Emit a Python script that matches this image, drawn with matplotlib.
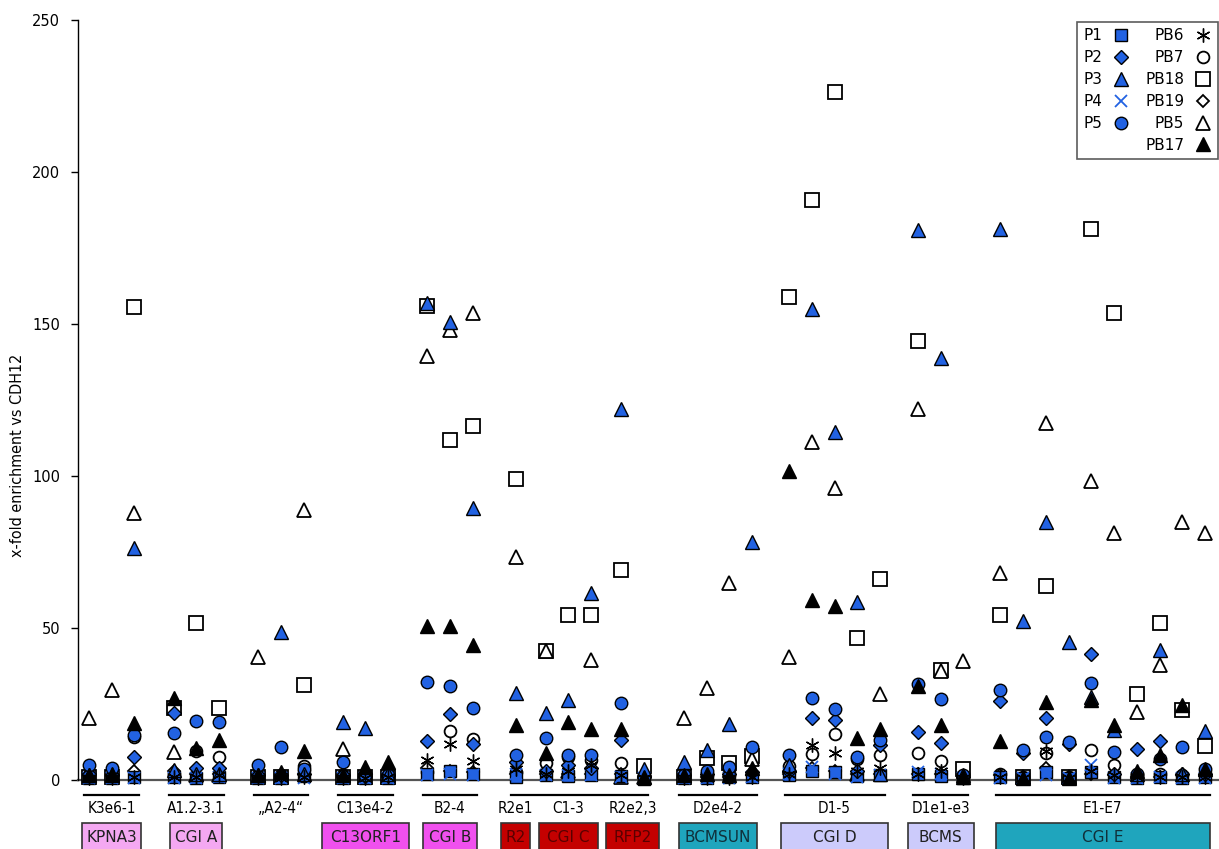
import numpy as np
import matplotlib.pyplot as plt
import matplotlib.transforms as mtransforms
from matplotlib.lines import Line2D
from matplotlib.patches import Rectangle

# amplicon groups along the x axis (number of primer pairs per group)
groups = ['K3e6-1', 'A1.2-3.1', '\u201eA2-4\u201c', 'C13e4-2', 'B2-4', 'R2e1', 'C1-3',
          'R2e2,3', 'D2e4-2', 'D1-5', 'D1e1-e3', 'E1-E7']
group_n = [3, 3, 3, 3, 3, 1, 3, 2, 4, 5, 3, 10]
group_gap = [0, 1.72, 1.72, 1.72, 1.72, 1.89, 1.32, 1.32, 1.76, 1.63, 1.67, 1.63]

# brackets under the axis: (first group, last group)
brackets = [(0, 0), (1, 1), (2, 2), (3, 3), (4, 4), (5, 7), (8, 8), (9, 9), (10, 10), (11, 11)]

# gene boxes: (label, first column, last column, padding, fill, text colour)
boxes = [('KPNA3', 0, 2, 0.30, '#f4a8f2', '#202020'),
         ('CGI A', 3, 5, 0.15, '#f4a8f2', '#202020'),
         ('C13ORF1', 9, 11, 0.90, '#f050ee', '#202020'),
         ('CGI B', 12, 14, 0.20, '#f050ee', '#202020'),
         ('R2', 15, 15, 0.65, '#c40000', '#5a0000'),
         ('CGI C', 16, 18, 0.30, '#c40000', '#5a0000'),
         ('RFP2', 19, 20, 0.65, '#c40000', '#5a0000'),
         ('BCMSUN', 21, 24, 0.20, '#1fa5bd', '#10303a'),
         ('CGI D', 25, 29, 0.35, '#cccbfb', '#202020'),
         ('BCMS', 30, 32, 0.45, '#cccbfb', '#202020'),
         ('CGI E', 33, 42, 0.20, '#1fa5bd', '#10303a')]

# x-fold enrichment vs CDH12, one value per primer pair
P1 = [0.6, 0.5, 1.0, 1.0, 0.6, 1.0, 0.6, 0.5, 1.2, 0.5, 0.5, 0.8, 2.0, 3.0, 2.0, 1.0,
      1.5, 1.2, 1.5, 1.2, 0.4, 0.8, 0.6, 1.0, 1.0, 1.5, 3.0, 2.5, 1.2, 1.5, 2.0, 1.2, 0.5,
      1.0, 0.5, 2.5, 0.5, 2.5, 1.0, 0.8, 1.0, 0.8, 1.0]
P2 = [2.0, 1.5, 7.7, 22.0, 4.0, 4.0, 1.5, 1.5, 2.0, 1.5, 1.2, 1.5, 12.9, 21.7, 11.8, 6.0,
      3.0, 5.0, 4.0, 13.2, 1.0, 1.5, 2.0, 2.0, 2.5, 3.0, 20.4, 19.7, 3.0, 11.5, 15.9, 12.3, 1.0,
      26.0, 9.0, 20.4, 12.0, 41.4, 2.0, 10.2, 12.9, 2.0, 2.0]
P3 = [1.5, 1.5, 76.3, 3.3, 2.0, 2.0, 1.5, 48.7, 2.0, 19.2, 17.0, 2.0, 157.0, 150.5, 89.5, 28.6,
      22.0, 26.3, 61.5, 122.0, 3.5, 6.0, 9.9, 18.5, 78.3, 5.0, 155.0, 114.5, 58.7, 2.0,
      181.0, 138.8, 1.5,
      181.3, 52.3, 84.9, 45.4, 27.4, 16.5, 2.0, 42.8, 2.0, 16.1]
P4 = [0.5, 0.5, 0.8, 0.8, 0.5, 1.0, 0.5, 0.5, 0.8, 0.5, 0.5, 0.5, 1.5, 2.0, 1.5, 2.0,
      1.5, 1.5, 1.5, 1.0, 0.5, 0.8, 0.8, 0.8, 1.0, 2.0, 4.4, 2.0, 1.0, 1.5, 2.5, 2.0, 0.5,
      0.5, 0.5, 1.5, 0.5, 5.0, 0.8, 0.5, 1.0, 0.8, 0.8]
P5 = [5.0, 4.0, 14.8, 15.4, 19.5, 19.2, 5.0, 10.8, 3.5, 6.0, 1.5, 1.5, 32.2, 30.9, 23.6, 8.2,
      13.9, 8.2, 8.2, 25.4, 1.0, 1.5, 3.0, 4.4, 10.7, 8.2, 27.0, 23.4, 7.5, 13.2, 31.5, 26.6, 1.5,
      29.6, 9.9, 14.3, 12.6, 31.9, 9.3, 2.0, 7.0, 10.8, 3.5]
PB6 = [0.8, 0.8, 1.0, 1.0, 1.0, 1.5, 0.8, 0.8, 1.0, 0.8, 0.8, 1.0, 6.6, 11.8, 6.4, 3.5,
       2.0, 3.0, 5.0, 1.5, 0.5, 0.8, 0.8, 0.8, 1.0, 2.0, 11.5, 9.0, 3.0, 4.0, 2.0, 3.0, 0.5,
       1.0, 0.5, 9.5, 0.5, 3.0, 1.5, 1.0, 1.0, 1.0, 1.0]
PB7 = [1.5, 1.5, 14.0, 2.0, 9.5, 7.7, 1.5, 1.5, 4.6, 1.5, 1.0, 1.5, 2.5, 16.2, 13.4, 2.5,
       5.5, 7.5, 6.5, 5.5, 1.0, 1.0, 1.5, 1.5, 2.0, 4.5, 8.6, 15.0, 7.0, 8.2, 8.8, 6.4, 1.0,
       2.0, 1.0, 9.0, 1.0, 9.9, 5.0, 1.5, 2.0, 1.5, 2.0]
PB18 = [1.0, 1.0, 155.6, 23.7, 51.7, 23.6, 1.0, 1.0, 31.2, 1.0, 1.0, 1.0, 156.0, 111.8, 116.4,
        99.0, 42.4, 54.3, 54.3, 69.0, 4.6, 1.0, 7.2, 5.5, 8.0, 159.0, 190.8, 226.3, 46.7, 66.0,
        144.4, 36.2, 3.6,
        54.3, 1.0, 63.8, 1.0, 181.3, 153.6, 28.3, 51.6, 23.0, 11.2]
PB19 = [1.5, 1.5, 3.0, 3.0, 2.0, 2.0, 1.5, 1.0, 2.0, 1.0, 1.0, 1.0, 4.0, 3.0, 2.5, 2.0,
        2.0, 2.0, 2.0, 2.0, 0.5, 1.0, 1.0, 1.0, 1.5, 2.0, 4.0, 3.0, 2.0, 2.0, 2.0, 2.0, 0.5,
        1.5, 0.5, 4.0, 0.5, 2.0, 1.5, 1.0, 1.0, 1.5, 1.5]
PB5 = [20.4, 29.6, 87.8, 9.2, 1.5, 1.5, 40.5, 1.0, 88.8, 10.2, 1.0, 1.0, 139.5, 148.0, 153.6,
       73.4, 42.4, 3.0, 39.5, 1.0, 1.0, 20.4, 30.3, 64.8, 7.0, 40.5, 111.2, 96.0, 2.0, 28.3,
       122.0, 36.0, 39.1,
       68.0, 1.0, 117.4, 1.0, 98.4, 81.3, 22.4, 37.8, 84.9, 81.3]
PB17 = [1.5, 2.0, 18.8, 27.0, 10.5, 13.2, 1.5, 2.5, 9.6, 1.5, 4.4, 6.0, 50.7, 50.7, 44.4,
        18.1, 8.8, 19.0, 16.8, 16.8, 1.0, 1.5, 2.0, 1.5, 4.0, 101.6, 59.2, 57.2, 13.9, 16.8,
        31.0, 18.1, 1.0,
        12.8, 0.8, 25.8, 0.8, 26.3, 18.0, 3.0, 8.2, 24.7, 3.5]

blue = '#2262e2'
series = {
    'P1': (P1, dict(marker='s', ms=8.5, mfc=blue, mec='black', mew=1.0)),
    'P2': (P2, dict(marker='D', ms=7, mfc=blue, mec='black', mew=1.0)),
    'P3': (P3, dict(marker='^', ms=10, mfc=blue, mec='black', mew=1.0)),
    'P4': (P4, dict(marker='x', ms=8, mfc=blue, mec=blue, mew=1.3)),
    'P5': (P5, dict(marker='o', ms=9, mfc=blue, mec='black', mew=1.0)),
    'PB6': (PB6, dict(marker=(6, 2, 0), ms=10, mfc='black', mec='black', mew=1.0)),
    'PB7': (PB7, dict(marker='o', ms=8.5, mfc='white', mec='black', mew=1.3)),
    'PB18': (PB18, dict(marker='s', ms=9.5, mfc='white', mec='black', mew=1.3)),
    'PB19': (PB19, dict(marker='D', ms=6.5, mfc='white', mec='black', mew=1.3)),
    'PB5': (PB5, dict(marker='^', ms=10.5, mfc='white', mec='black', mew=1.3)),
    'PB17': (PB17, dict(marker='^', ms=10, mfc='black', mec='black', mew=1.0)),
}
# open symbols underneath, blue samples next, filled black on top
draw_order = ['PB18', 'PB5', 'PB7', 'PB19', 'P1', 'P4', 'P2', 'P5', 'P3', 'PB6', 'PB17']

# column positions: unit step inside a group, wider step between groups
xs = []
group_cols = []
pos = 0.0
for k, (n, g) in enumerate(zip(group_n, group_gap)):
    if k > 0:
        pos += g
    cols = []
    for i in range(n):
        if i > 0:
            pos += 1
        xs.append(pos)
        cols.append(pos)
    group_cols.append(cols)
xs = np.array(xs)

W, H = 1219, 849
fig = plt.figure(figsize=(W / 100, H / 100), dpi=100)
ax = fig.add_axes([78 / W, (H - 780) / H, (W - 78) / W, 760 / H])

for z, name in enumerate(draw_order):
    vals, st = series[name]
    ax.plot(xs, vals, linestyle='none', clip_on=False, zorder=3 + z * 0.1, **st)

ax.set_ylim(0, 250)
ax.set_xlim(xs[0] - 0.484, xs[-1] + 0.616)
ax.set_yticks(np.arange(0, 251, 50))
ax.set_xticks([])
ax.tick_params(axis='y', direction='out', length=5, width=1, labelsize=10.5, pad=8)
for s in ['top', 'right']:
    ax.spines[s].set_visible(False)
ax.spines['left'].set_linewidth(1.0)
ax.spines['bottom'].set_color('#555555')
ax.spines['bottom'].set_linewidth(1.6)
ax.spines['bottom'].set_zorder(2)

narrow = dict(family='DejaVu Sans', stretch='condensed')
fig.text(18 / W, 1 - 455 / H, 'x-fold enrichment vs CDH12', rotation=90,
         ha='center', va='center', fontsize=11.5, **narrow)

# labels below the axis
trans = mtransforms.blended_transform_factory(ax.transData, ax.transAxes)
for g0, g1 in brackets:
    left = group_cols[g0][0] - 0.2
    right = group_cols[g1][-1] + 0.2
    ax.plot([left, right], [-0.0197, -0.0197], color='black', lw=1.6,
            transform=trans, clip_on=False)
for k, name in enumerate(groups):
    c = group_cols[k]
    ax.text((c[0] + c[-1]) / 2, -0.037, name, transform=trans, ha='center', va='center',
            fontsize=11, **narrow)

for label, i0, i1, pad, fc, tc in boxes:
    left = xs[i0] - pad
    right = xs[i1] + pad
    ax.add_patch(Rectangle((left, -0.1), right - left, 0.0434, transform=trans,
                           facecolor=fc, edgecolor='#333333', lw=1.2, clip_on=False))
    ax.text((left + right) / 2, -0.076, label, transform=trans, ha='center', va='center',
            fontsize=11, color=tc)

# legend: two columns, symbol after the label
handles, labels = [], []
for name in ['P1', 'P2', 'P3', 'P4', 'P5']:
    handles.append(Line2D([], [], linestyle='none', **series[name][1]))
    labels.append(name)
handles.append(Line2D([], [], linestyle='none', marker=None))
labels.append('')
for name in ['PB6', 'PB7', 'PB18', 'PB19', 'PB5', 'PB17']:
    handles.append(Line2D([], [], linestyle='none', **series[name][1]))
    labels.append(name)
leg = ax.legend(handles, labels, ncol=2, markerfirst=False, loc='upper right',
                bbox_to_anchor=(0.999, 0.997), fontsize=11, frameon=True, fancybox=False,
                handlelength=1.2, handletextpad=0.6, columnspacing=1.0, labelspacing=0.45,
                borderpad=0.4, borderaxespad=0)
leg.get_frame().set_edgecolor('#333333')
leg.get_frame().set_linewidth(1.2)
leg.set_zorder(10)

fig.savefig('out.png', dpi=100)
